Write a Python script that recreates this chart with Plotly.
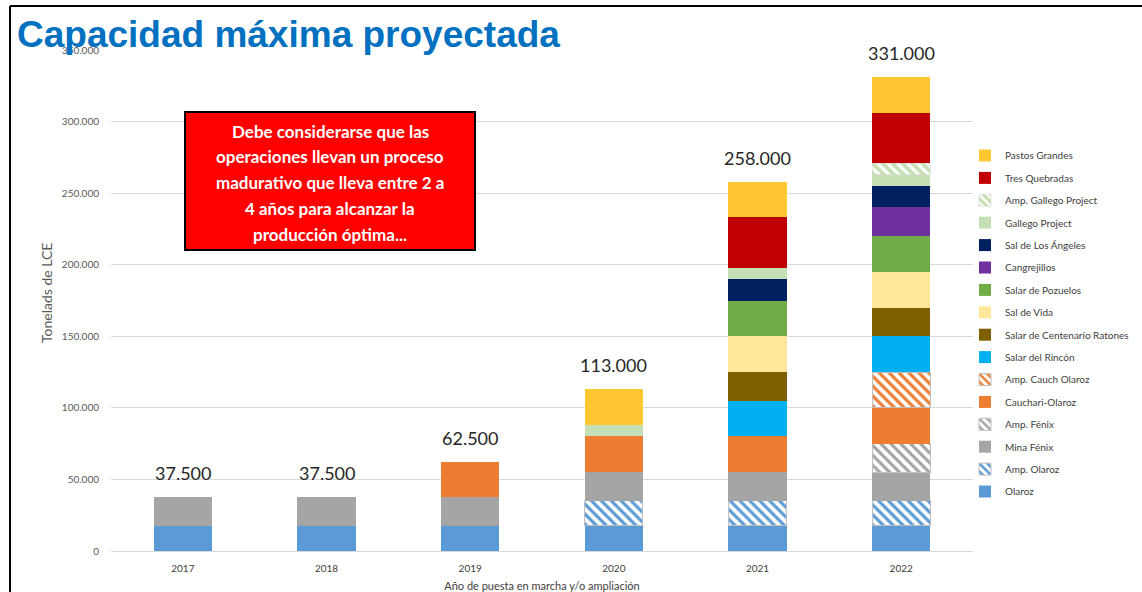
import plotly.graph_objects as go

years = ["2017", "2018", "2019", "2020", "2021", "2022"]

olaroz = [17500, 17500, 17500, 17500, 17500, 17500]
amp_olaroz = [0, 0, 0, 17500, 17500, 17500]
mina_fenix = [20000, 20000, 20000, 20000, 20000, 20000]
amp_fenix = [0, 0, 0, 0, 0, 20000]
cauchari = [0, 0, 25000, 25000, 25000, 25000]
amp_cauch = [0, 0, 0, 0, 0, 25000]
rincon = [0, 0, 0, 0, 25000, 25000]
centenario = [0, 0, 0, 0, 20000, 20000]
sal_vida = [0, 0, 0, 0, 25000, 25000]
pozuelos = [0, 0, 0, 0, 25000, 25000]
cangrejillos = [0, 0, 0, 0, 0, 20000]
angeles = [0, 0, 0, 0, 15000, 15000]
gallego = [0, 0, 0, 8000, 8000, 8000]
amp_gallego = [0, 0, 0, 0, 0, 8000]
tres_quebradas = [0, 0, 0, 0, 35000, 35000]
pastos_grandes = [0, 0, 0, 25000, 25000, 25000]

series = [
    ("Olaroz", olaroz, "#5B9BD5", False),
    ("Amp. Olaroz", amp_olaroz, "#5B9BD5", True),
    ("Mina Fénix", mina_fenix, "#A5A5A5", False),
    ("Amp. Fénix", amp_fenix, "#A5A5A5", True),
    ("Cauchari-Olaroz", cauchari, "#ED7D31", False),
    ("Amp. Cauch Olaroz", amp_cauch, "#ED7D31", True),
    ("Salar del Rincón", rincon, "#00B0F0", False),
    ("Salar de Centenario Ratones", centenario, "#7F6000", False),
    ("Sal de Vida", sal_vida, "#FFE699", False),
    ("Salar de Pozuelos", pozuelos, "#70AD47", False),
    ("Cangrejillos", cangrejillos, "#7030A0", False),
    ("Sal de Los Ángeles", angeles, "#002060", False),
    ("Gallego Project", gallego, "#C5E0B4", False),
    ("Amp. Gallego Project", amp_gallego, "#C5E0B4", True),
    ("Tres Quebradas", tres_quebradas, "#C00000", False),
    ("Pastos Grandes", pastos_grandes, "#FFC832", False),
]

totals = [sum(s[1][i] for s in series) for i in range(len(years))]

note_lines = [
    "Debe considerarse que las",
    "operaciones llevan un proceso",
    "madurativo que lleva entre 2 a",
    "4 años para alcanzar la",
    "producción óptima...",
]

W, H = 1142, 592
L, R, T, B = 111, 169, 50, 41
PW, PH = W - L - R, H - T - B


def px_x(p):
    return (p - L) / PW


def px_y(p):
    return (H - B - p) / PH


fig = go.Figure()
for i, (name, vals, color, hatched) in enumerate(series):
    yv = [v if v else None for v in vals]
    if hatched:
        if name == "Amp. Gallego Project":
            marker = dict(color=color, pattern=dict(shape="\\", fgcolor="white", bgcolor=color,
                                                    size=7, solidity=0.45, fillmode="replace"),
                          line=dict(color="#D0D0D0", width=0.5))
        else:
            marker = dict(color="white", pattern=dict(shape="\\", fgcolor=color, bgcolor="white",
                                                      size=7, solidity=0.45, fillmode="replace"),
                          line=dict(color="#BFBFBF", width=1))
    else:
        marker = dict(color=color, line=dict(width=0))
    fig.add_trace(go.Bar(x=years, y=yv, name=name, marker=marker, legendgroup=name,
                         legendrank=1000 - i, hoverinfo="name+y"))

fig.update_layout(
    barmode="stack",
    bargap=0.595,
    width=W, height=H,
    margin=dict(l=L, r=R, t=T, b=B, autoexpand=False),
    paper_bgcolor="white",
    plot_bgcolor="white",
    separators=",.",
    font=dict(family="Lato", color="#404040"),
    showlegend=True,
    legend=dict(
        x=px_x(965), y=px_y(141), xanchor="left", yanchor="top",
        traceorder="grouped", tracegroupgap=3.4,
        font=dict(family="Lato", size=10, color="#404040"),
        bgcolor="rgba(0,0,0,0)", itemwidth=30,
    ),
    title=dict(
        text="<b>Capacidad máxima proyectada</b>",
        font=dict(family="Liberation Sans", size=37, color="#0070C0"),
        x=17 / W, xref="container", xanchor="left",
        y=1 - 34 / H, yref="container", yanchor="middle",
        pad=dict(l=0, r=0, t=0, b=0),
    ),
    xaxis=dict(
        type="category", range=[-0.5, len(years) - 0.5], autorange=False,
        showgrid=False, showline=True, linecolor="#D9D9D9", linewidth=1,
        ticks="", tickfont=dict(family="Lato", size=10, color="#404040"),
        ticklabelstandoff=8,
        title=dict(text="Año de puesta en marcha y/o ampliación",
                   font=dict(family="Lato", size=11, color="#404040"), standoff=9),
    ),
    yaxis=dict(
        range=[0, 350000], dtick=50000, tickformat=",d",
        showgrid=True, gridcolor="#D9D9D9", gridwidth=1,
        zeroline=False, showline=False,
        ticks="outside", ticklen=9, tickcolor="rgba(0,0,0,0)",
        tickfont=dict(family="Lato", size=10, color="#595959"),
    ),
)

# totals above bars
for i, tot in enumerate(totals):
    fig.add_annotation(x=i, y=tot, xref="x", yref="y",
                       text=f"{tot:,}".replace(",", "."), showarrow=False,
                       xanchor="center", yanchor="bottom", yshift=11,
                       font=dict(family="Lato", size=18, color="#262626"))

# y axis title
fig.add_annotation(xref="paper", yref="paper", x=px_x(46), y=px_y(293),
                   xanchor="center", yanchor="middle",
                   text="Tonelads de LCE", textangle=-90, showarrow=False,
                   font=dict(family="Lato", size=14, color="#595959"))

# red note box
fig.add_shape(type="rect", xref="paper", yref="paper",
              x0=px_x(185), x1=px_x(475), y0=px_y(250), y1=px_y(112),
              fillcolor="#FF0000", line=dict(color="black", width=2))
for i, line in enumerate(note_lines):
    fig.add_annotation(xref="paper", yref="paper", x=px_x(330), y=px_y(131 + 25.8 * i),
                       xanchor="center", yanchor="middle",
                       text=f"<b>{line}</b>", showarrow=False,
                       font=dict(family="Lato", size=17, color="white"))

# outer frame
fig.add_shape(type="line", xref="paper", yref="paper",
              x0=px_x(10), x1=px_x(10), y0=px_y(6), y1=px_y(600),
              line=dict(color="black", width=2))
fig.add_shape(type="line", xref="paper", yref="paper",
              x0=px_x(10), x1=px_x(1150), y0=px_y(6), y1=px_y(6),
              line=dict(color="black", width=2))

fig.write_html("out.html", config={"displayModeBar": False},
               post_script="document.body.style.margin='0';")
